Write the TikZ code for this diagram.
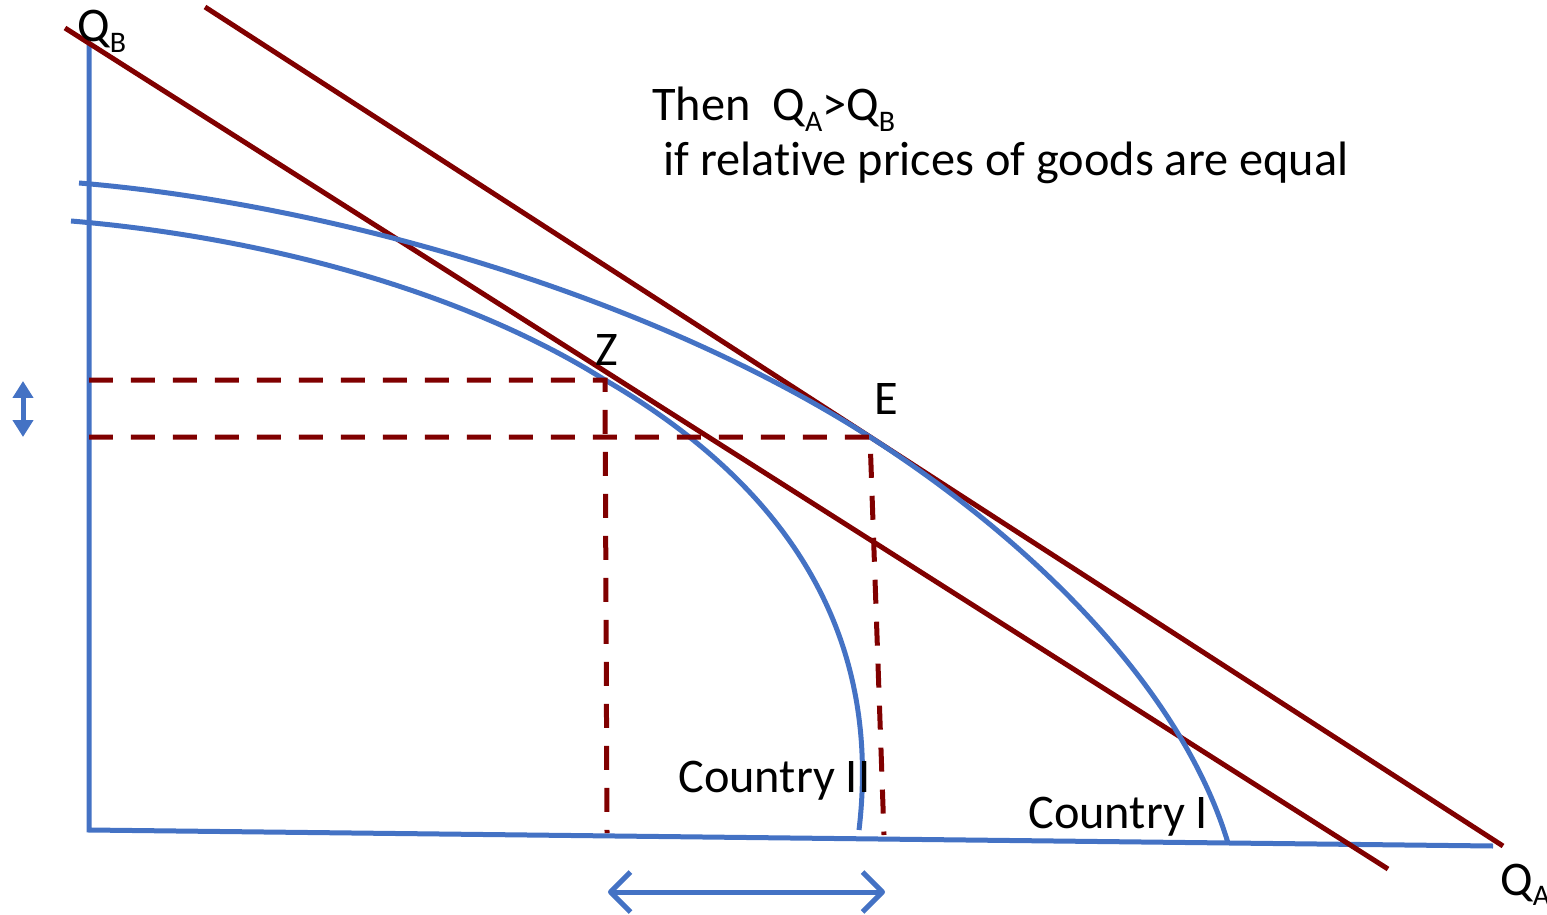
\documentclass[tikz,border=0pt]{standalone}
\usepackage{fontspec}
\setmainfont[Ligatures=NoCommon]{Carlito}
\usepackage{tikz}
\usetikzlibrary{arrows.meta}
\definecolor{ppfblue}{RGB}{68,114,196}
\definecolor{budgetred}{RGB}{128,0,0}
\newcommand{\lowsub}[1]{\raisebox{-0.22em}{\fontsize{17}{17}\selectfont #1}}

\begin{document}
\begin{tikzpicture}[
  x=0.02cm, y=-0.02cm,
  axis/.style={draw=ppfblue, line width=0.1cm},
  ppf/.style={draw=ppfblue, line width=0.1cm},
  budget/.style={draw=budgetred, line width=0.1cm},
  guide/.style={draw=budgetred, line width=0.1cm, dash pattern=on 0.48cm off 0.36cm},
  lbl/.style={inner sep=0pt, font=\fontsize{27.5}{32}\selectfont},
]
\useasboundingbox (0,0) rectangle (1547,915);

% axes
\coordinate (QBtop) at (89,45);
\coordinate (O) at (89,830);
\coordinate (QAend) at (1493,846);
\draw[axis] (QBtop) -- (O) -- (QAend);

% price lines
\coordinate (L1a) at (65,28);
\coordinate (L1b) at (1388,869);
\coordinate (L2a) at (205,7);
\coordinate (L2b) at (1503,846);
\draw[budget] (L1a) -- (L1b);
\draw[budget] (L2a) -- (L2b);

% production possibility frontiers
\coordinate (Z) at (605,380);
\coordinate (E) at (870,437);
\draw[ppf] (79,183) .. controls (320,203) and (640,290) .. (E)
  .. controls (1050,553) and (1185,700) .. (1228,843);
\draw[ppf] (71,221) .. controls (250,236) and (455,286) .. (Z)
  .. controls (760,470) and (885,610) .. (859,830);

% projections
\coordinate (Zy) at (89,380);
\coordinate (Ey) at (89,437);
\coordinate (Zx) at (607,833);
\coordinate (Ex) at (884,835);
\draw[guide] (Zy) -- (Z) -- (Zx);
\draw[guide] (Ey) -- (E) -- (Ex);

% differences
\coordinate (dyt) at (23,381);
\coordinate (dyb) at (23,437);
\draw[ppfblue, line width=0.1cm, {Triangle[length=0.34cm,width=0.4cm]}-{Triangle[length=0.34cm,width=0.4cm]}] (dyt) -- (dyb);
\coordinate (dxl) at (608,892);
\coordinate (dxr) at (885,892);
\draw[ppfblue, line width=0.1cm, line cap=round, {Straight Barb[length=0.4cm,width=0.8cm,line join=round]}-{Straight Barb[length=0.4cm,width=0.8cm,line join=round]}] (dxl) -- (dxr);

% labels
\node[lbl, anchor=base west] (qb) at (77,42) {Q\lowsub{B}};
\node[lbl, anchor=base west] (qa) at (1500,895) {Q\lowsub{A}};
\node[lbl, anchor=base] (zl) at (607,365) {Z};
\node[lbl, anchor=base] (el) at (886,414) {E};
\node[lbl, anchor=base west] (c2) at (678,792) {Country II};
\node[lbl, anchor=base west] (c1) at (1028,828) {Country I};
\node[lbl, anchor=base west] (t1) at (652,121) {Then\ \ Q\lowsub{A}>Q\lowsub{B}};
\node[lbl, anchor=base west] (t2) at (663,176) {if relative prices of goods are equal};
\end{tikzpicture}
\end{document}
